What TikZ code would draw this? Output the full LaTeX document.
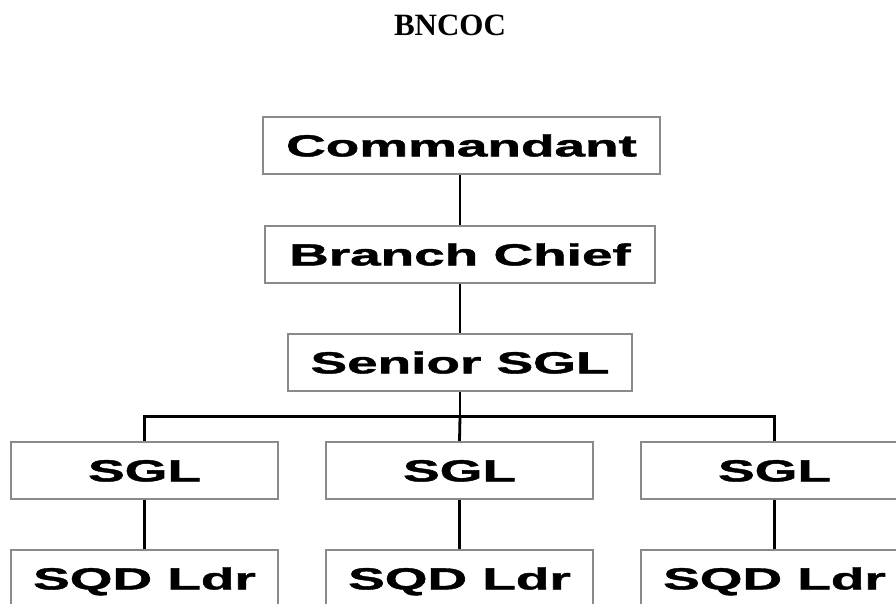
\documentclass[tikz,border=0pt]{standalone}
\usepackage{fontspec}
\setmainfont{Liberation Serif}
\newfontfamily\boxfont[BoldFeatures={FakeBold=1.2}]{Liberation Sans}
\usepackage{graphicx}
\definecolor{boxgray}{HTML}{8A8A8A}
\newcommand{\bxtext}[1]{\scalebox{1.8}[1]{\boxfont\bfseries\fontsize{30.5pt}{30.5pt}\selectfont #1}}
\tikzset{
  orgbox/.style={draw=boxgray, line width=2.2pt, fill=white, inner sep=0pt,
    text height=21.8pt, text depth=0pt, minimum height=57pt, align=center},
  link/.style={draw=black, line width=2.8pt}
}
\begin{document}
\begin{tikzpicture}[x=1pt,y=-1pt]
\useasboundingbox (0,0) rectangle (896,603);
\node (title) at (450,25) {\bfseries\fontsize{31pt}{31pt}\selectfont BNCOC};
\node[orgbox, minimum width=397pt] (cmd) at (461.5,145.5) {\bxtext{Commandant}};
\node[orgbox, minimum width=390pt] (bc) at (460,254.5) {\bxtext{Branch Chief}};
\node[orgbox, minimum width=344pt] (sr) at (460,362.5) {\bxtext{Senior SGL}};
\node[orgbox, minimum width=267pt] (sgl1) at (144.5,470.5) {\bxtext{SGL}};
\node[orgbox, minimum width=267pt] (sgl2) at (459.5,470.5) {\bxtext{SGL}};
\node[orgbox, minimum width=267pt] (sgl3) at (774.5,470.5) {\bxtext{SGL}};
\node[orgbox, minimum width=267pt] (sqd1) at (144.5,578.5) {\bxtext{SQD Ldr}};
\node[orgbox, minimum width=267pt] (sqd2) at (459.5,578.5) {\bxtext{SQD Ldr}};
\node[orgbox, minimum width=267pt] (sqd3) at (774.5,578.5) {\bxtext{SQD Ldr}};
\coordinate (bar) at (460,416.5);
\draw[link] (cmd.south -| bc.north) -- (bc.north);
\draw[link] (bc.south) -- (sr.north);
\draw[link] (sr.south) -- (bar);
\draw[link] (sgl1.north) |- (bar) -| (sgl3.north);
\draw[link] (bar) -- (sgl2.north);
\draw[link] (sgl1.south) -- (sqd1.north);
\draw[link] (sgl2.south) -- (sqd2.north);
\draw[link] (sgl3.south) -- (sqd3.north);
\end{tikzpicture}
\end{document}
